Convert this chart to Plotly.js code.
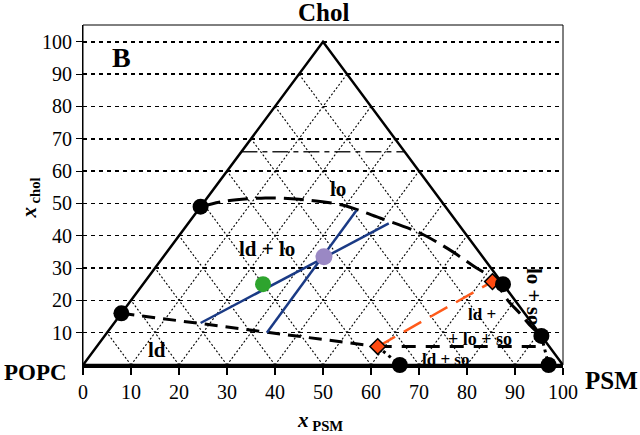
<!DOCTYPE html>
<html><head><meta charset="utf-8">
<script src="https://cdn.plot.ly/plotly-3.0.1.min.js"></script>
<style>html,body{margin:0;padding:0;background:#fff}</style>
</head><body><div id="chart" style="width:640px;height:435px"></div>
<script>
// ---- data (plot coordinates) ----
const xTickVals = [0, 10, 20, 30, 40, 50, 60, 70, 80, 90, 100];
const yTickVals = [10, 20, 30, 40, 50, 60, 70, 80, 90, 100];
const gridLevels = [10, 20, 30, 40, 50, 60, 70, 80, 90];
const triangleX = [0, 50, 100, 0];
const triangleY = [0, 100, 0, 0];

const loBoundaryX = [24.5, 30, 38, 45, 54, 62, 70, 76, 81.5, 85.5, 88.5, 91, 93, 95.5];
const loBoundaryY = [49, 50.8, 51.7, 51.3, 49.5, 45.4, 41, 36, 30.5, 26.5, 20, 16, 12.5, 9];
const ldBoundaryX = [8, 61.4];
const ldBoundaryY = [16, 5.7];
const soBoundaryX = [61.4, 95.5];
const soBoundaryY = [5.7, 5.7];
const dotted1X = [61.4, 66];
const dotted1Y = [5.7, 0];
const dotted2X = [95.5, 97];
const dotted2Y = [9, 0];
const midDashX = [33, 67];
const midDashY = [66, 66];

const tie1X = [24.5, 63.7];
const tie1Y = [13, 43.8];
const tie2X = [38.3, 57];
const tie2Y = [10, 47.9];
const orangeTieX = [61.4, 85.3];
const orangeTieY = [5.7, 25.8];

const blackPtsX = [24.5, 8, 87.5, 95.5, 97, 66];
const blackPtsY = [49, 16, 25, 9, 0, 0];
const greenPtX = [37.5];
const greenPtY = [25];
const purplePtX = [50.2];
const purplePtY = [33.5];

const regionLabels = ['lo', 'ld + lo', 'ld', 'ld +', '+ lo + so', 'ld + so', 'so'];
const regionX = [53.2, 38.3, 15.4, 83.2, 82.8, 75.5, 101.2];
const regionY = [54.6, 35.8, 4.6, 15.5, 8.2, 1.8, 4.1];
const regionSize = [21, 21, 21, 17, 18, 17, 20];

// ---- traces ----
const F = 'Liberation Serif, Times New Roman, serif';
const traces = [];
// ternary dotted grid
gridLevels.forEach(k => {
  traces.push({x: [k, k + (100 - k) / 2], y: [0, 100 - k], mode: 'lines',
    line: {color: '#000', width: 1.1, dash: '2px,2px'}, hoverinfo: 'skip', showlegend: false});
  traces.push({x: [k, k / 2], y: [0, k], mode: 'lines',
    line: {color: '#000', width: 1.1, dash: '2px,2px'}, hoverinfo: 'skip', showlegend: false});
});
traces.push({x: midDashX, y: midDashY, mode: 'lines', line: {color: '#222', width: 1.5, dash: '16px,5px,5px,5px'}, showlegend: false});
traces.push({x: triangleX, y: triangleY, mode: 'lines', line: {color: '#000', width: 2.5}, showlegend: false, cliponaxis: false});
traces.push({x: loBoundaryX, y: loBoundaryY, mode: 'lines', line: {color: '#000', width: 3, dash: '20px,8px', shape: 'spline', smoothing: 0.8}, showlegend: false});
traces.push({x: ldBoundaryX, y: ldBoundaryY, mode: 'lines', line: {color: '#000', width: 3, dash: '13px,8px'}, showlegend: false});
traces.push({x: soBoundaryX, y: soBoundaryY, mode: 'lines', line: {color: '#000', width: 3, dash: '14px,10px'}, showlegend: false});
traces.push({x: dotted1X, y: dotted1Y, mode: 'lines', line: {color: '#000', width: 3, dash: '3px,4px'}, showlegend: false});
traces.push({x: dotted2X, y: dotted2Y, mode: 'lines', line: {color: '#000', width: 3, dash: '3px,4px'}, showlegend: false});
traces.push({x: tie1X, y: tie1Y, mode: 'lines', line: {color: '#1a3a85', width: 2.5}, showlegend: false});
traces.push({x: tie2X, y: tie2Y, mode: 'lines', line: {color: '#1a3a85', width: 2.5}, showlegend: false});
traces.push({x: orangeTieX, y: orangeTieY, mode: 'lines', line: {color: '#ff5a1a', width: 2.5, dash: '20px,10px'}, showlegend: false});
traces.push({x: orangeTieX, y: orangeTieY, mode: 'markers', marker: {symbol: 'diamond', size: 12, color: '#ff4a10', line: {color: '#000', width: 1.5}}, showlegend: false});
traces.push({x: blackPtsX, y: blackPtsY, mode: 'markers', cliponaxis: false, marker: {size: 16, color: '#000'}, showlegend: false});
traces.push({x: greenPtX, y: greenPtY, mode: 'markers', marker: {size: 16, color: '#2ea42e'}, showlegend: false});
traces.push({x: purplePtX, y: purplePtY, mode: 'markers', marker: {size: 17, color: '#9a88c4'}, showlegend: false});

const annotations = regionLabels.map((t, i) => ({
  x: regionX[i], y: regionY[i], xref: 'x', yref: 'y', text: '<b>' + t + '</b>', showarrow: false,
  xanchor: 'center', yanchor: 'middle',
  font: {family: F, size: regionSize[i], color: '#000'}
}));
function ann(x, y, xref, yref, text, size, angle) {
  annotations.push({x: x, y: y, xref: xref, yref: yref, text: text, showarrow: false,
    xanchor: 'center', yanchor: 'middle', textangle: angle || 0,
    font: {family: F, size: size, color: '#000'}});
}
ann(94.0, 21.3, 'x', 'y', '<b>lo + so</b>', 21, 90);
ann(8.1, 95, 'x', 'y', '<b>B</b>', 28, 0);
ann(0.5, 1.038, 'paper', 'paper', '<b>Chol</b>', 25, 0);
ann(-0.1, -0.021, 'paper', 'paper', '<b>POPC</b>', 23, 0);
ann(1.1, -0.047, 'paper', 'paper', '<b>PSM</b>', 25, 0);
ann(0.494, -0.165, 'paper', 'paper', '<b><i>x</i><sub> PSM</sub></b>', 21, 0);
ann(-0.11, 0.49, 'paper', 'paper', '<b><i>x</i><sub> chol</sub></b>', 21, -90);

const layout = {
  width: 640, height: 435,
  margin: {l: 83, r: 77, t: 25, b: 70},
  paper_bgcolor: '#fff', plot_bgcolor: '#fff',
  showlegend: false,
  font: {family: F, color: '#000'},
  xaxis: {range: [0, 100], tickvals: xTickVals, ticks: 'outside', ticklen: 7, tickwidth: 2, tickcolor: '#000',
    showline: true, linewidth: 2.5, linecolor: '#000', showgrid: false, zeroline: false,
    tickfont: {family: F, size: 20, color: '#000'}},
  yaxis: {range: [0, 105.2], tickvals: yTickVals, ticks: 'outside', ticklen: 6, tickwidth: 1, tickcolor: '#000',
    showline: true, linewidth: 1, linecolor: '#000', showgrid: true, gridcolor: '#000', gridwidth: 1.5,
    griddash: '4px,4px', zeroline: false, tickfont: {family: F, size: 20, color: '#000'}},
  shapes: [{type: 'rect', xref: 'paper', yref: 'paper', x0: 0, x1: 1, y0: 0, y1: 1, line: {color: '#000', width: 1}}],
  annotations: annotations
};
Plotly.newPlot('chart', traces, layout, {displayModeBar: false, staticPlot: true});
</script>
</body></html>
